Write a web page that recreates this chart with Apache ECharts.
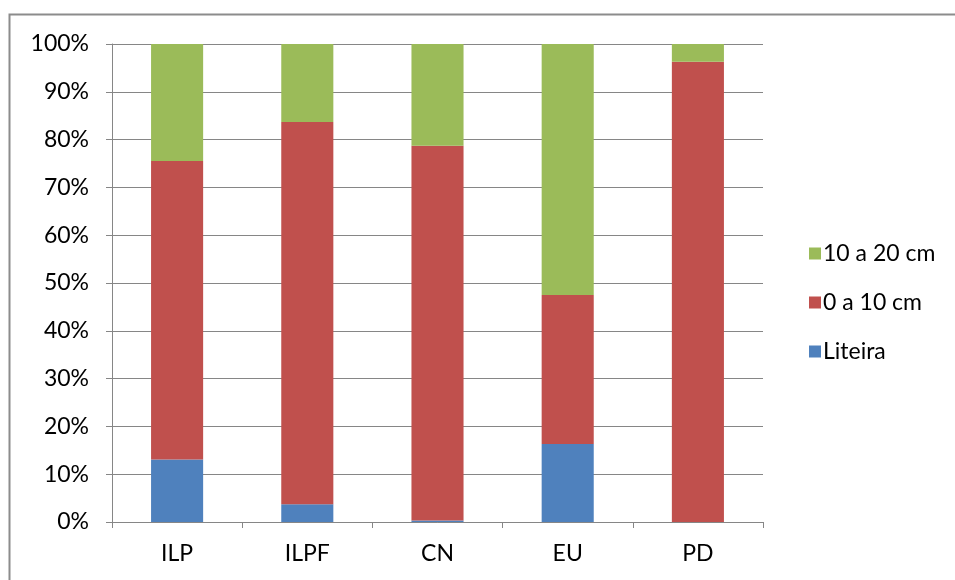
<!DOCTYPE html>
<html>
<head>
<meta charset="utf-8">
<script src="https://cdn.jsdelivr.net/npm/echarts@6/dist/echarts.min.js"></script>
<style>
  html, body { margin: 0; padding: 0; background: #fff; }
  #chart { width: 955px; height: 580px; }
</style>
</head>
<body>
<div id="chart"></div>
<script>
var categories = ["ILP", "ILPF", "CN", "EU", "PD"];
var liteira = [13.1, 3.7, 0.3, 16.3, 0];
var zeroTo10 = [62.4, 80.0, 78.4, 31.2, 96.3];
var tenTo20 = [24.5, 16.3, 21.3, 52.5, 3.7];

var font = "Lato, 'Open Sans', sans-serif";

var option = {
  animation: false,
  backgroundColor: "#fff",
  graphic: [{
    type: "rect",
    shape: { x: 9.5, y: 14.5, width: 1000, height: 600 },
    style: { fill: "none", stroke: "#8c8c8c", lineWidth: 2 }
  }],
  legend: {
    orient: "vertical",
    left: 804,
    top: 237,
    itemWidth: 12,
    itemHeight: 12,
    itemGap: 26,
    icon: "rect",
    data: ["10 a 20 cm", "0 a 10 cm", "Liteira"],
    textStyle: { fontFamily: font, fontSize: 23, color: "#000", padding: [0, 0, 0, -3] }
  },
  grid: {
    left: 112,
    right: 192,
    top: 44,
    bottom: 58
  },
  xAxis: {
    type: "category",
    data: categories,
    axisLine: { lineStyle: { color: "#868686", width: 1 } },
    axisTick: { show: true, length: 6, alignWithLabel: false, lineStyle: { color: "#868686" } },
    axisLabel: { margin: 20, fontFamily: font, fontSize: 23, color: "#000" }
  },
  yAxis: {
    type: "value",
    min: 0,
    max: 100,
    interval: 10,
    axisLine: { show: true, lineStyle: { color: "#868686" } },
    axisTick: { show: true, length: 6, lineStyle: { color: "#868686" } },
    splitLine: { lineStyle: { color: "#868686", width: 1 } },
    axisLabel: {
      margin: 23,
      fontFamily: font,
      fontSize: 23,
      color: "#000",
      formatter: "{value}%"
    }
  },
  series: [{
    name: "Liteira",
    type: "bar",
    stack: "total",
    barWidth: "40%",
    itemStyle: { color: "#4F81BD" },
    data: liteira
  },
  {
    name: "0 a 10 cm",
    type: "bar",
    stack: "total",
    itemStyle: { color: "#C0504D" },
    data: zeroTo10
  },
  {
    name: "10 a 20 cm",
    type: "bar",
    stack: "total",
    itemStyle: { color: "#9BBB59" },
    data: tenTo20
  }
  ]
};

echarts.init(document.getElementById("chart")).setOption(option);
</script>
</body>
</html>
